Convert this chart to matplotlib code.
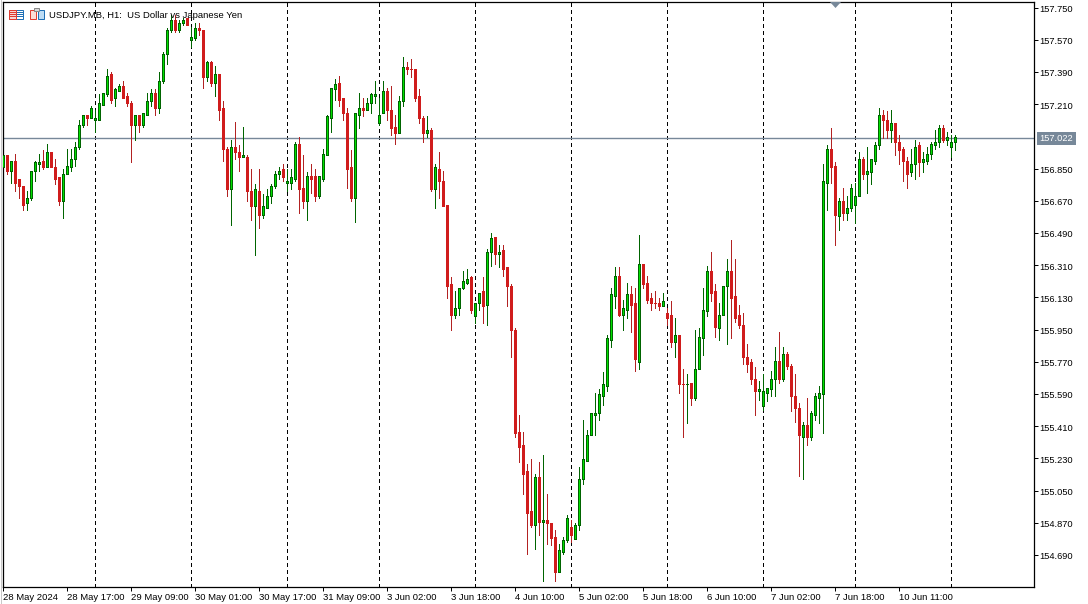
import matplotlib
matplotlib.use("Agg")
import matplotlib.pyplot as plt
from matplotlib.patches import Rectangle, Polygon
from matplotlib.transforms import ScaledTranslation

opens = [
	156.861, 156.923, 156.834, 156.895, 156.789, 156.750, 156.655, 156.683, 156.834, 156.878,
	156.895, 156.861, 156.945, 156.861, 156.800, 156.671, 156.817, 156.861, 156.906, 156.968,
	157.091, 157.152, 157.130, 157.124, 157.124, 157.208, 157.264, 157.376, 157.242, 157.281,
	157.314, 157.253, 157.219, 157.091, 157.147, 157.091, 157.152, 157.225, 157.270, 157.186,
	157.337, 157.488, 157.622, 157.678, 157.627, 157.661, 157.689, 157.566, 157.577, 157.638,
	157.627, 157.359, 157.443, 157.331, 157.376, 157.191, 156.962, 156.733, 156.968, 156.945,
	156.912, 156.917, 156.727, 156.638, 156.727, 156.588, 156.632, 156.694, 156.750, 156.817,
	156.845, 156.772, 156.772, 156.789, 156.990, 156.739, 156.671, 156.811, 156.806, 156.699,
	156.794, 156.923, 157.135, 157.292, 157.331, 157.242, 157.163, 156.856, 156.688, 157.152,
	157.186, 157.175, 157.214, 157.258, 157.102, 157.158, 157.286, 157.180, 157.085, 157.051,
	157.225, 157.420, 157.409, 157.409, 157.253, 157.135, 157.051, 157.068, 156.733, 156.850,
	156.778, 156.649, 156.202, 156.034, 156.068, 156.180, 156.213, 156.241, 156.023, 156.101,
	156.168, 156.090, 156.386, 156.465, 156.370, 156.392, 156.297, 156.196, 155.950, 155.375,
	155.302, 155.157, 154.933, 154.860, 155.123, 154.877, 154.883, 154.871, 154.788, 154.597,
	154.704, 154.771, 154.849, 154.777, 154.860, 155.112, 155.218, 155.358, 155.475, 155.486,
	155.581, 155.637, 155.889, 156.140, 156.247, 156.034, 156.062, 156.146, 156.096, 155.771,
	156.314, 156.213, 156.124, 156.101, 156.101, 156.084, 156.045, 156.029, 155.883, 155.917,
	155.648, 155.643, 155.654, 155.565, 155.727, 155.900, 156.056, 156.280, 156.163, 155.961,
	156.034, 156.191, 156.280, 156.135, 156.029, 155.978, 155.799, 155.766, 155.676, 155.609,
	155.520, 155.593, 155.615, 155.671, 155.777, 155.676, 155.811, 155.749, 155.576, 155.514,
	155.352, 155.419, 155.352, 155.475, 155.565, 155.587, 156.772, 156.957, 156.867, 156.582,
	156.666, 156.599, 156.632, 156.649, 156.694, 156.906, 156.817, 156.828, 156.895, 156.979,
	157.152, 157.119, 157.063, 157.102, 157.001, 156.957, 156.895, 156.828, 156.878, 156.979,
	156.889, 156.895, 156.934, 156.984, 157.001, 157.079, 157.007, 156.973, 156.996,
]
highs = [
	156.934, 156.923, 156.895, 156.929, 156.794, 156.750, 156.727, 156.834, 156.895, 156.929,
	156.951, 156.990, 156.945, 156.901, 156.800, 156.845, 156.962, 156.962, 157.001, 157.119,
	157.152, 157.152, 157.197, 157.180, 157.264, 157.275, 157.404, 157.387, 157.303, 157.320,
	157.342, 157.275, 157.230, 157.152, 157.147, 157.163, 157.275, 157.292, 157.292, 157.387,
	157.499, 157.633, 157.706, 157.711, 157.678, 157.694, 157.694, 157.644, 157.666, 157.661,
	157.627, 157.454, 157.454, 157.426, 157.381, 157.225, 156.968, 157.007, 157.113, 156.979,
	157.085, 156.923, 156.850, 156.766, 156.845, 156.705, 156.733, 156.761, 156.834, 156.861,
	156.878, 156.845, 156.850, 156.996, 157.024, 156.923, 156.828, 156.873, 156.850, 156.811,
	156.957, 157.152, 157.303, 157.353, 157.365, 157.242, 157.191, 156.951, 157.158, 157.275,
	157.242, 157.242, 157.270, 157.342, 157.242, 157.337, 157.298, 157.309, 157.147, 157.253,
	157.471, 157.443, 157.460, 157.409, 157.292, 157.141, 157.141, 157.074, 156.878, 156.940,
	156.834, 156.649, 156.241, 156.163, 156.185, 156.275, 156.286, 156.252, 156.101, 156.157,
	156.241, 156.403, 156.487, 156.465, 156.425, 156.420, 156.302, 156.207, 155.961, 155.470,
	155.375, 155.196, 155.229, 155.145, 155.207, 155.251, 155.028, 154.871, 154.832, 154.754,
	154.788, 154.911, 154.883, 154.871, 155.179, 155.442, 155.391, 155.481, 155.593, 155.615,
	155.710, 155.922, 156.185, 156.302, 156.302, 156.118, 156.213, 156.196, 156.180, 156.481,
	156.314, 156.247, 156.152, 156.163, 156.129, 156.157, 156.073, 156.112, 156.017, 155.917,
	155.727, 155.704, 155.654, 155.945, 155.956, 156.180, 156.308, 156.381, 156.207, 156.101,
	156.191, 156.342, 156.448, 156.347, 156.090, 156.040, 155.872, 155.788, 155.738, 155.660,
	155.704, 155.626, 155.716, 155.850, 155.934, 155.850, 155.822, 155.760, 155.704, 155.537,
	155.436, 155.565, 155.497, 155.598, 155.637, 156.878, 156.979, 157.074, 156.884, 156.688,
	156.739, 156.694, 156.761, 156.772, 156.945, 156.912, 156.968, 156.906, 156.996, 157.191,
	157.175, 157.169, 157.180, 157.102, 157.040, 156.968, 156.912, 156.962, 157.007, 156.996,
	156.945, 156.973, 157.001, 157.063, 157.091, 157.091, 157.057, 157.040, 157.035,
]
lows = [
	156.856, 156.822, 156.772, 156.727, 156.683, 156.621, 156.616, 156.677, 156.783, 156.839,
	156.845, 156.856, 156.856, 156.766, 156.649, 156.576, 156.817, 156.834, 156.867, 156.962,
	157.085, 157.096, 157.130, 157.057, 157.119, 157.208, 157.253, 157.219, 157.197, 157.281,
	157.247, 157.197, 156.889, 157.012, 157.057, 157.085, 157.152, 157.197, 157.147, 157.158,
	157.331, 157.432, 157.611, 157.616, 157.616, 157.655, 157.655, 157.527, 157.566, 157.594,
	157.298, 157.342, 157.309, 157.253, 157.119, 156.895, 156.694, 156.532, 156.901, 156.839,
	156.912, 156.671, 156.565, 156.364, 156.520, 156.576, 156.632, 156.660, 156.744, 156.789,
	156.783, 156.722, 156.733, 156.778, 156.599, 156.632, 156.565, 156.716, 156.666, 156.688,
	156.778, 156.923, 157.057, 157.236, 157.202, 157.119, 156.744, 156.671, 156.554, 157.074,
	157.141, 157.175, 157.163, 157.219, 157.096, 157.158, 157.119, 157.040, 156.990, 157.046,
	157.197, 157.376, 157.359, 157.230, 157.102, 156.996, 157.024, 156.727, 156.632, 156.683,
	156.638, 156.124, 155.945, 156.012, 156.034, 156.174, 156.202, 156.040, 155.984, 156.062,
	155.984, 155.978, 156.308, 156.314, 156.302, 156.247, 156.084, 155.799, 155.352, 155.207,
	155.028, 154.698, 154.849, 154.721, 154.799, 154.547, 154.754, 154.743, 154.547, 154.592,
	154.698, 154.765, 154.760, 154.777, 154.827, 155.089, 155.218, 155.358, 155.358, 155.442,
	155.531, 155.609, 155.855, 156.073, 156.023, 155.950, 156.017, 155.934, 155.716, 155.727,
	156.185, 156.096, 156.062, 156.073, 156.062, 156.084, 155.973, 155.850, 155.794, 155.593,
	155.352, 155.425, 155.526, 155.559, 155.727, 155.805, 156.023, 156.112, 155.906, 155.889,
	156.034, 155.872, 155.900, 155.995, 155.961, 155.760, 155.710, 155.648, 155.470, 155.559,
	155.503, 155.548, 155.576, 155.576, 155.654, 155.665, 155.732, 155.492, 155.436, 155.129,
	155.117, 155.307, 155.330, 155.447, 155.425, 155.369, 156.616, 156.772, 156.420, 156.509,
	156.565, 156.560, 156.610, 156.548, 156.694, 156.794, 156.716, 156.766, 156.878, 156.962,
	157.018, 157.018, 157.001, 156.923, 156.873, 156.778, 156.739, 156.806, 156.794, 156.811,
	156.828, 156.878, 156.901, 156.962, 156.973, 156.996, 156.984, 156.912, 156.951,
]
closes = [
	156.923, 156.834, 156.895, 156.772, 156.750, 156.649, 156.688, 156.834, 156.884, 156.884,
	156.861, 156.940, 156.856, 156.794, 156.671, 156.817, 156.867, 156.906, 156.968, 157.091,
	157.152, 157.130, 157.191, 157.130, 157.214, 157.270, 157.370, 157.236, 157.292, 157.309,
	157.247, 157.214, 157.091, 157.147, 157.091, 157.158, 157.230, 157.270, 157.191, 157.342,
	157.493, 157.627, 157.683, 157.627, 157.666, 157.683, 157.655, 157.588, 157.638, 157.622,
	157.359, 157.443, 157.331, 157.376, 157.175, 156.957, 156.733, 156.968, 156.940, 156.912,
	156.923, 156.722, 156.638, 156.733, 156.588, 156.638, 156.694, 156.750, 156.822, 156.839,
	156.800, 156.778, 156.800, 156.990, 156.733, 156.671, 156.811, 156.794, 156.694, 156.806,
	156.929, 157.141, 157.298, 157.325, 157.236, 157.158, 156.850, 156.688, 157.158, 157.191,
	157.175, 157.214, 157.264, 157.264, 157.147, 157.286, 157.175, 157.079, 157.051, 157.230,
	157.420, 157.404, 157.404, 157.247, 157.130, 157.051, 157.068, 156.733, 156.856, 156.778,
	156.643, 156.191, 156.034, 156.068, 156.185, 156.224, 156.235, 156.062, 156.096, 156.157,
	156.084, 156.386, 156.459, 156.370, 156.386, 156.291, 156.191, 155.945, 155.369, 155.296,
	155.145, 154.927, 154.860, 155.123, 154.877, 154.883, 154.866, 154.782, 154.597, 154.715,
	154.771, 154.894, 154.799, 154.860, 155.117, 155.224, 155.363, 155.481, 155.486, 155.587,
	155.648, 155.900, 156.146, 156.247, 156.034, 156.068, 156.146, 156.090, 155.788, 156.319,
	156.207, 156.118, 156.096, 156.096, 156.084, 156.107, 156.017, 155.883, 155.917, 155.643,
	155.643, 155.648, 155.565, 155.732, 155.906, 156.062, 156.280, 156.157, 155.967, 156.034,
	156.191, 156.280, 156.129, 156.017, 155.978, 155.794, 155.755, 155.671, 155.604, 155.615,
	155.604, 155.621, 155.676, 155.777, 155.676, 155.816, 155.749, 155.576, 155.509, 155.358,
	155.419, 155.352, 155.486, 155.576, 155.593, 156.778, 156.957, 156.861, 156.593, 156.666,
	156.599, 156.632, 156.744, 156.694, 156.901, 156.817, 156.839, 156.906, 156.979, 157.152,
	157.119, 157.063, 157.102, 156.996, 156.951, 156.895, 156.817, 156.878, 156.973, 156.889,
	156.906, 156.934, 156.990, 157.001, 157.079, 157.007, 157.029, 156.996, 157.024,
]

y_ticks = [157.750, 157.570, 157.390, 157.210, 156.850, 156.670, 156.490, 156.310, 156.130,
	155.950, 155.770, 155.590, 155.410, 155.230, 155.050, 154.870, 154.690]
x_labels = ["28 May 2024", "28 May 17:00", "29 May 09:00", "30 May 01:00", "30 May 17:00",
	"31 May 09:00", "3 Jun 02:00", "3 Jun 18:00", "4 Jun 10:00", "5 Jun 02:00",
	"5 Jun 18:00", "6 Jun 10:00", "7 Jun 02:00", "7 Jun 18:00", "10 Jun 11:00"]
day_bars = [23, 47, 71, 94, 118, 142, 166, 190, 213, 237]
last_price = 157.022

FONT = "Liberation Sans"
plt.rcParams["font.family"] = FONT
W, H = 1088, 604
fig = plt.figure(figsize = (W / 100, H / 100), dpi = 100, facecolor = "white")

# main chart window, pixel box 3..1034 x 2..587
ax = fig.add_axes([2.5 / W, (H - 586.5) / H, 1031 / W, 585 / H])
ax.set_xlim(-0.125, 257.625)
ax.set_ylim(157.795 - 0.00559 * 587, 157.795 - 0.00559 * 2)

bars = list(range(len(opens)))
for b in day_bars:
	ax.axvline(b, color = "black", lw = 0.72, linestyle = (0, (3, 3)), zorder = 1, antialiased = False)
ax.axhline(last_price, color = "#778899", lw = 1, zorder = 1)

for i in bars:
	up = closes[i] >= opens[i]
	wick = "#006400" if up else "#b22222"
	fill = "#00e000" if up else "#d01c1c"
	edge = "#006400" if up else "#d01c1c"
	ax.vlines(i, lows[i], highs[i], colors = wick, lw = 0.72, zorder = 2, antialiased = False)
	ax.bar(i, abs(closes[i] - opens[i]), bottom = min(opens[i], closes[i]), width = 0.6,
		color = fill, edgecolor = edge, linewidth = 0.72, zorder = 3, antialiased = False)

ax.yaxis.tick_right()
ax.set_yticks(y_ticks)
ax.set_yticklabels(["%.3f" % v for v in y_ticks], fontsize = 6.7)
ax.set_xticks(bars[::16])
ax.set_xticklabels(x_labels, fontsize = 6.8, ha = "left")
ax.tick_params(axis = "y", length = 3, width = 0.72, pad = 1.2)
ax.tick_params(axis = "x", length = 3, width = 0.72, pad = 1.5)
for s in ax.spines.values():
	s.set_linewidth(0.9)

# y labels sit one pixel lower than the ticks in the terminal
nudge = ScaledTranslation(0, -1 / 100, fig.dpi_scale_trans)
for label in ax.get_yticklabels():
	label.set_transform(label.get_transform() + nudge)

# overlay in pixel coordinates for the terminal chrome
top = fig.add_axes([0, 0, 1, 1], facecolor = "none")
top.set_xlim(0, W)
top.set_ylim(H, 0)
top.axis("off")
top.add_patch(Rectangle((1037, 132), 39, 12.5, color = "#778899", lw = 0))
top.text(1056.5, 138.7, "%.3f" % last_price, color = "white", fontsize = 6.7, ha = "center", va = "center")
top.add_patch(Polygon([(830, 2), (841, 2), (835.5, 8)], color = "#778899", lw = 0))
top.plot([1087.5, 1087.5], [0, H], color = "#a0a0a0", lw = 0.72)
top.plot([0.5, 0.5], [0, H], color = "#c8c8c8", lw = 0.72)
top.text(49, 15.5, "USDJPY.MB, H1:  US Dollar vs Japanese Yen", fontsize = 6.8, va = "center", ha = "left")

# the two toolbar icons
top.add_patch(Rectangle((8.5, 9.5), 14, 9, fc = "white", ec = "#1f6fb5", lw = 0.72))
top.add_patch(Rectangle((8.5, 9.5), 7, 9, fc = "#f8d8d8", ec = "#e03c31", lw = 0.72))
for yy in (11.5, 13.5, 15.5):
	top.plot([10, 14.5], [yy, yy], color = "#e03c31", lw = 0.72)
	top.plot([17, 21.5], [yy, yy], color = "#1f6fb5", lw = 0.72)
top.add_patch(Rectangle((29.5, 9.5), 6, 9, fc = "#fbdcd6", ec = "#e03c31", lw = 0.72))
top.add_patch(Rectangle((37.5, 9.5), 6, 9, fc = "#bcdcf5", ec = "#1f6fb5", lw = 0.72))
top.add_patch(Rectangle((33.5, 8), 5, 3, fc = "#d8d8d8", ec = "#888888", lw = 0.72))

fig.savefig("out.png", dpi = 100)
plt.close()
